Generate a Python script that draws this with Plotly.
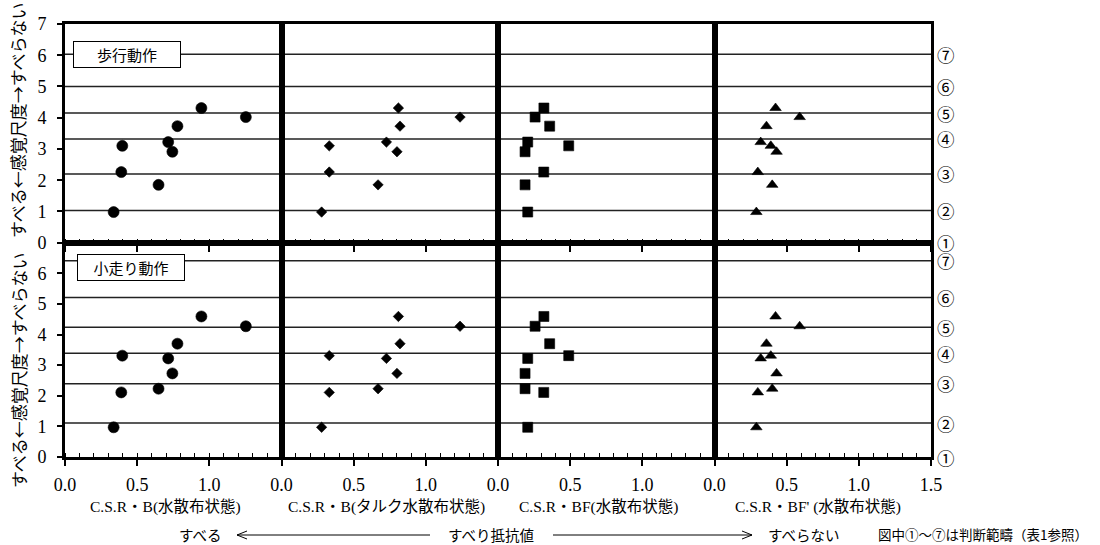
import plotly.graph_objects as go
from plotly.subplots import make_subplots

# ---- data ----
panel_titles = ["C.S.R・B(水散布状態)", "C.S.R・B(タルク水散布状態)", "C.S.R・BF(水散布状態)", "C.S.R・BF' (水散布状態)"]
row_titles = ["歩行動作", "小走り動作"]
csrb_water = [0.337, 0.39, 0.397, 0.648, 0.715, 0.744, 0.779, 0.945, 1.253]
csrb_talc = [0.278, 0.331, 0.331, 0.669, 0.727, 0.80, 0.821, 0.81, 1.237]
csrbf = [0.206, 0.317, 0.49, 0.1875, 0.206, 0.1875, 0.358, 0.318, 0.257]
csrbf_p = [0.29, 0.30, 0.39, 0.40, 0.32, 0.43, 0.36, 0.423, 0.59]
walk = [0.98, 2.26, 3.10, 1.85, 3.22, 2.91, 3.73, 4.31, 4.02]
run = [0.97, 2.11, 3.31, 2.23, 3.22, 2.73, 3.70, 4.59, 4.27]
walk_bounds = [1.03, 2.2, 3.32, 4.15, 5.0, 6.03]
run_bounds = [1.11, 2.39, 3.39, 4.24, 5.21, 6.41]
category_labels = ["①", "②", "③", "④", "⑤", "⑥", "⑦"]
x_ticks = [0.0, 0.5, 1.0]
x_ticks_last = [0.0, 0.5, 1.0, 1.5]
y_ticks_top = [0, 1, 2, 3, 4, 5, 6, 7]
y_ticks_bottom = [0, 1, 2, 3, 4, 5, 6]

xs = [csrb_water, csrb_talc, csrbf, csrbf_p]
ys = [walk, run]
symbols = ["circle", "diamond", "square", "triangle-up"]
sizes = [11, 8, 10, 10]

SERIF = "Liberation Serif, Noto Sans CJK JP"
GOTH = "Noto Sans CJK JP"

W, H = 1100, 545
L, R, T, B = 65, 169, 24, 88
PW, PH = W - L - R, H - T - B


def pxx(x):
    return (x - L) / PW


def pxy(y):
    return (H - B - y) / PH


fig = make_subplots(rows=2, cols=4, horizontal_spacing=0, vertical_spacing=0,
                    row_heights=[0.505, 0.495])

for r in range(2):
    for c in range(4):
        fig.add_trace(go.Scatter(x=xs[c], y=ys[r], mode="markers",
                                 marker=dict(symbol=symbols[c], size=sizes[c], color="black",
                                             line=dict(width=0.6, color="black")),
                                 showlegend=False, hoverinfo="x+y"),
                      row=r + 1, col=c + 1)
        fig.update_xaxes(range=[0, 1.5], tickvals=(x_ticks_last if c == 3 else x_ticks),
                         ticktext=[f"{v:.1f}" for v in (x_ticks_last if c == 3 else x_ticks)],
                         showticklabels=(r == 1), ticks="outside", ticklen=6, tickwidth=1.5,
                         tickcolor="black", ticklabelstandoff=3,
                         minor=dict(ticks="inside", dtick=0.1, ticklen=4, tickwidth=1, tickcolor="black"),
                         showline=True, linewidth=3, linecolor="black", mirror=True,
                         showgrid=False, zeroline=False,
                         tickfont=dict(family=SERIF, size=18, color="black"),
                         row=r + 1, col=c + 1)
        fig.update_yaxes(range=[0, 7], tickvals=(y_ticks_top if r == 0 else y_ticks_bottom),
                         showticklabels=(c == 0), ticks=("outside" if c == 0 else ""),
                         ticklen=5, tickwidth=1.5, tickcolor="black", ticklabelstandoff=7,
                         showline=True, linewidth=3, linecolor="black", mirror=True,
                         showgrid=False, zeroline=False,
                         tickfont=dict(family=SERIF, size=18, color="black"),
                         row=r + 1, col=c + 1)

shapes = []
annos = []
row_yref = ["y", "y5"]


def txt(x, y, text, size, family=GOTH, yref="paper", **kw):
    d = dict(xref="paper", yref=yref, x=x, y=y, text=text, showarrow=False,
             xanchor="center", yanchor="middle",
             font=dict(family=family, size=size, color="black"))
    d.update(kw)
    return d


for r, bounds in enumerate([walk_bounds, run_bounds]):
    for v in bounds:
        shapes.append(dict(type="line", xref="paper", yref=row_yref[r], x0=0, x1=1, y0=v, y1=v,
                           line=dict(color="#222", width=1.5), layer="below"))
    for lab, v in zip(category_labels, [0] + bounds):
        annos.append(txt(pxx(946), v, lab, 17.5, yref=row_yref[r]))
    annos.append(txt(pxx(18), pxy(120) if r == 0 else pxy(370), "すべる←感覚尺度→すべらない", 17,
                     textangle=-90))

# row label boxes
for lab, (xl, yc) in zip(row_titles, [(73, 54), (77, 267.5)]):
    annos.append(txt(pxx(xl), pxy(yc), lab, 15, xanchor="left", bgcolor="white",
                     bordercolor="black", borderwidth=1, borderpad=2, width=102, height=21))

# panel titles
for t, cx in zip(panel_titles, [165, 386, 598, 818]):
    annos.append(txt(pxx(cx), pxy(507), t, 15.5, family=SERIF))

# bottom caption
annos.append(txt(pxx(200), pxy(534), "すべる", 14.5))
annos.append(txt(pxx(491), pxy(534), "すべり抵抗値", 14.5))
annos.append(txt(pxx(804), pxy(534), "すべらない", 14.5))
annos.append(txt(pxx(983), pxy(534), "図中①～⑦は判断範疇（表1参照）", 13.5))


def seg(x0, y0, x1, y1):
    return dict(type="line", xref="paper", yref="paper", x0=pxx(x0), y0=pxy(y0), x1=pxx(x1), y1=pxy(y1),
                line=dict(color="black", width=1))


ay = 535
shapes += [seg(237, ay, 430, ay), seg(237, ay, 247, ay - 4), seg(237, ay, 247, ay + 4),
           seg(553, ay, 752, ay), seg(752, ay, 742, ay - 4), seg(752, ay, 742, ay + 4)]

fig.update_layout(width=W, height=H, margin=dict(l=L, r=R, t=T, b=B),
                  paper_bgcolor="white", plot_bgcolor="white",
                  shapes=shapes, annotations=annos,
                  font=dict(family=SERIF, color="black"))

fig.write_html("out.html")
